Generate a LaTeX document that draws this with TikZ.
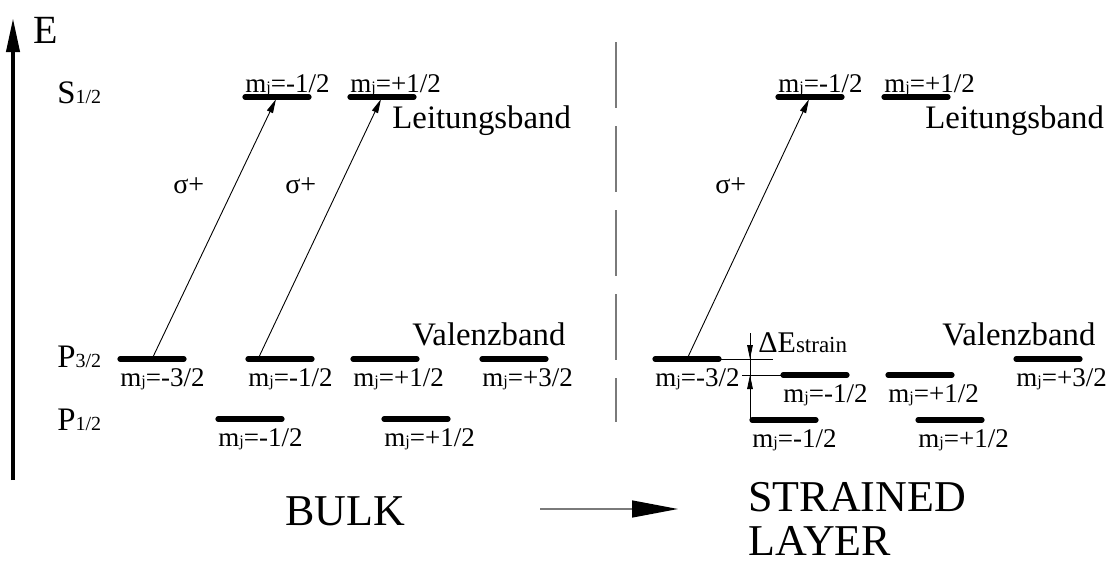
\documentclass[tikz,border=0pt]{standalone}
\usepackage{fontspec}
\setmainfont{Liberation Serif}
\usetikzlibrary{arrows.meta}
\definecolor{sepgray}{HTML}{7A7A7A}
\newcommand{\subtxt}[2]{{\fontsize{#1}{#1}\selectfont #2}}
\newcommand{\mj}[2]{m\subtxt{8pt}{j}=#1#2/2}

\begin{document}
\begin{tikzpicture}[x=0.5pt,y=-0.5pt,
  level/.style={line width=2.6pt,line cap=round},
  trans/.style={line width=0.45pt,shorten >=1.2pt,-{Triangle[length=7pt,width=3.2pt]}},
  mlab/.style={font=\fontsize{13.5}{15}\selectfont,inner sep=0pt,anchor=base west},
  band/.style={font=\fontsize{16.4}{18}\selectfont,inner sep=0pt,anchor=base west},
  big/.style={font=\fontsize{22}{23}\selectfont,inner sep=0pt,anchor=base west},
  dimline/.style={line width=0.4pt},
  dimarr/.style={line width=0.4pt,-{Triangle[length=7pt,width=2.8pt]}}]
  \useasboundingbox (0,0) rectangle (1120,562);

  % Energy axis
  \coordinate (Ebot) at (13,480);
  \coordinate (Etop) at (13,18);
  \draw[line width=2pt,-{Triangle[length=17pt,width=6.5pt]}] (Ebot) -- (Etop);
  \node[band,font=\fontsize{20}{22}\selectfont] (E) at (33,43) {E};
  \node[band] (S12) at (57,103) {S\subtxt{10pt}{1/2}};
  \node[band] (P32) at (57,367) {P\subtxt{10pt}{3/2}};
  \node[band] (P12) at (57,430) {P\subtxt{10pt}{1/2}};

  % Left: bulk
  \foreach \x/\s/\n in {245/-/bSm, 350/+/bSp} {
    \draw[level] (\x,97) -- (\x+64,97) coordinate[midway] (\n);
    \node[mlab] (\n-lab) at (\x,92) {\mj{\s}{1}};
  }
  \foreach \x/\y/\s/\k/\n in {120/359/-/3/bPm3, 248/359/-/1/bPm1, 353/359/+/1/bPp1,
      482/359/+/3/bPp3, 218/419/-/1/bQm1, 384/419/+/1/bQp1} {
    \draw[level] (\x,\y) -- (\x+64,\y) coordinate[midway] (\n);
    \node[mlab] (\n-lab) at (\x,\y+27) {\mj{\s}{\k}};
  }
  \node[band] (bLeit) at (392,128) {Leitungsband};
  \node[band] (bVal) at (412,345) {Valenzband};
  \draw[trans] (bPm3) -- (bSm);
  \draw[trans] ([xshift=-11pt]bPm1) -- (bSp);
  \node[mlab,font=\fontsize{14}{16}\selectfont] (bsig1) at (173,193) {σ+};
  \node[mlab,font=\fontsize{14}{16}\selectfont] (bsig2) at (285,193) {σ+};

  % Separator
  \draw[sepgray,line width=0.7pt,dash pattern=on 33pt off 9pt] (616,42) -- (616,422);

  % Right: strained layer
  \foreach \x/\s/\n in {778/-/sSm, 884/+/sSp} {
    \draw[level] (\x,97) -- (\x+64,97) coordinate[midway] (\n);
    \node[mlab] (\n-lab) at (\x,92) {\mj{\s}{1}};
  }
  \foreach \x/\y/\s/\k/\n in {655/359/-/3/sPm3, 783/375/-/1/sPm1, 888/375/+/1/sPp1,
      1016/359/+/3/sPp3, 752/420/-/1/sQm1, 918/420/+/1/sQp1} {
    \draw[level] (\x,\y) -- (\x+64,\y) coordinate[midway] (\n);
    \node[mlab] (\n-lab) at (\x,\y+27) {\mj{\s}{\k}};
  }
  \node[band] (sLeit) at (925,128) {Leitungsband};
  \node[band] (sVal) at (942,345) {Valenzband};
  \draw[trans] (sPm3) -- (sSm);
  \node[mlab,font=\fontsize{14}{16}\selectfont] (ssig) at (715,193) {σ+};

  % strain splitting
  \draw[dimline] (717,359) -- (773,359);
  \draw[dimline] (742,375) -- (783,375);
  \draw[dimline] (750,333) -- (750,418);
  \draw[dimarr] (750,336) -- (750,359);
  \draw[dimarr] (750,398) -- (750,375);
  \node[band,font=\fontsize{15}{17}\selectfont] (dE) at (758,352) {ΔE\subtxt{11.5pt}{strain}};

  % Bottom
  \node[big] (bulk) at (285,525) {BULK};
  \node[big] (strained) at (748,511) {STRAINED};
  \node[big] (layer) at (748,555) {LAYER};
  \coordinate (from) at (540,509);
  \coordinate (to) at (678,509);
  \draw[sepgray,line width=0.7pt,-{Triangle[length=23pt,width=8.5pt,black]}] (from) -- (to);
\end{tikzpicture}
\end{document}
